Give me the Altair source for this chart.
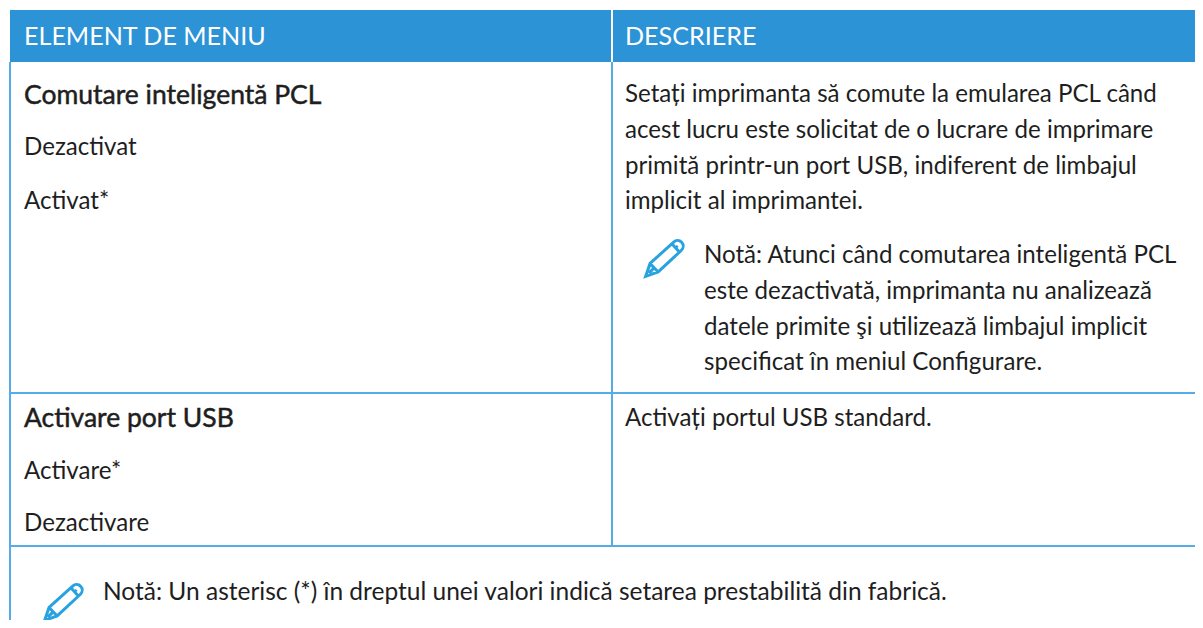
import altair as alt
import pandas as pd

# text content and its table position (column anchor, line centre, in reference pixels)
header_text = ["ELEMENT DE MENIU", "DESCRIERE"]
header_x = [24, 625]
header_y = [37, 37]

bold_text = ["Comutare inteligentă PCL", "Activare port USB"]
bold_x = [24, 24]
bold_y = [96, 419]

body_text = ["Dezactivat", "Activat*", "Activare*", "Dezactivare",
             "Setați imprimanta să comute la emularea PCL când",
             "acest lucru este solicitat de o lucrare de imprimare",
             "primită printr-un port USB, indiferent de limbajul",
             "implicit al imprimantei.",
             "Notă: Atunci când comutarea inteligentă PCL",
             "este dezactivată, imprimanta nu analizează",
             "datele primite şi utilizează limbajul implicit",
             "specificat în meniul Configurare.",
             "Activați portul USB standard."]
body_x = [24, 24, 24, 24, 625, 625, 625, 625, 704, 704, 704, 704, 625]
body_y = [148, 202, 472, 524, 95, 131, 167, 202, 256, 292, 328, 363, 419]

foot_text = ["Notă: Un asterisc (*) în dreptul unei valori indică setarea prestabilită din fabrică."]
foot_x = [103]
foot_y = [593]

# table geometry
header_box = {"x": [10], "x2": [1203], "y": [10], "y2": [62]}
h_lines = {"x": [10, 10], "x2": [1203, 1203], "y": [393, 546]}
v_lines = {"x": [10, 612, 10], "y": [62, 62, 546], "y2": [546, 546, 628]}
header_sep = {"x": [612], "y": [10], "y2": [62]}
icon_x = [664, 63]
icon_y = [258, 602]

PENCIL = ("M -0.95 0.95 L -0.72 0.28 L 0.5 -0.82 A 0.2 0.2 0 0 1 0.9 -0.4 L -0.3 0.72 Z "
          "M -0.72 0.28 L -0.3 0.72 M -0.55 0.55 L -0.78 0.78 "
          "M 0.42 -0.72 L 0.78 -0.32 M 0.6 -0.62 L 0.7 -0.52")

W, H = 1187, 612
X = alt.Scale(domain=[8, 8 + W], range=[0, W], nice=False, zero=False, clamp=False)
Y = alt.Scale(domain=[8, 8 + H], range=[0, H], nice=False, zero=False, clamp=False)
xq = lambda f="x": alt.X(f"{f}:Q", scale=X, axis=None)
yq = lambda f="y": alt.Y(f"{f}:Q", scale=Y, axis=None)

FONT = "Lato"
TXT = "#1e1e1e"
BLUE = "#2b93d6"
LINE = "#55ace6"

header_df = pd.DataFrame(header_box)
hl = pd.DataFrame(h_lines)
vl = pd.DataFrame(v_lines)
sep = pd.DataFrame(header_sep)
tx_h = pd.DataFrame({"t": header_text, "x": header_x, "y": header_y})
tx_b = pd.DataFrame({"t": bold_text, "x": bold_x, "y": bold_y})
tx = pd.DataFrame({"t": body_text, "x": body_x, "y": body_y})
tx_f = pd.DataFrame({"t": foot_text, "x": foot_x, "y": foot_y})
ic = pd.DataFrame({"x": icon_x, "y": icon_y})

layers = [
    alt.Chart(header_df).mark_rect(color=BLUE, clip=True).encode(x=xq(), x2="x2:Q", y=yq(), y2="y2:Q"),
    alt.Chart(sep).mark_rule(color="white", strokeWidth=2).encode(x=xq(), y=yq(), y2="y2:Q"),
    alt.Chart(hl).mark_rule(color=LINE, strokeWidth=2, clip=True).encode(x=xq(), x2="x2:Q", y=yq()),
    alt.Chart(vl).mark_rule(color=LINE, strokeWidth=2, clip=True).encode(x=xq(), y=yq(), y2="y2:Q"),
    alt.Chart(tx_h).mark_text(font=FONT, fontSize=25.1, color="white", align="left", baseline="middle")
        .encode(x=xq(), y=yq(), text="t:N"),
    alt.Chart(tx_b).mark_text(font=FONT, fontSize=26.5, color=TXT, stroke=TXT, strokeWidth=0.5, align="left", baseline="middle")
        .encode(x=xq(), y=yq(), text="t:N"),
    alt.Chart(tx).mark_text(font=FONT, fontSize=24.1, color=TXT, align="left", baseline="middle")
        .encode(x=xq(), y=yq(), text="t:N"),
    alt.Chart(tx_f).mark_text(font=FONT, fontSize=24.5, color=TXT, align="left", baseline="middle")
        .encode(x=xq(), y=yq(), text="t:N"),
    alt.Chart(ic).mark_point(shape=PENCIL, size=1500, filled=False, stroke="#29a3e0", strokeWidth=3, opacity=1)
        .encode(x=xq(), y=yq()),
]

chart = alt.layer(*layers).properties(
    width=W, height=H, padding=0, autosize=alt.AutoSizeParams(type="none"),
    background="white"
).configure_view(stroke=None)

chart.save("out.html", embed_options={"renderer": "svg", "actions": False})
